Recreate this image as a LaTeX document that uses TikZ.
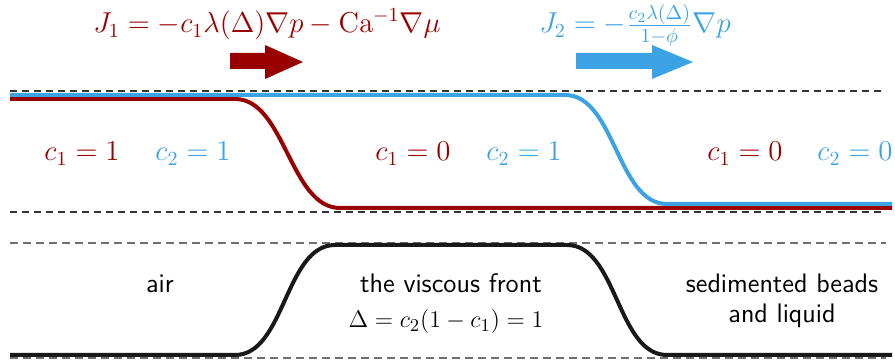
\documentclass[tikz,border=0pt]{standalone}
\usepackage{amsmath}
\definecolor{cred}{HTML}{990000}
\definecolor{cblue}{HTML}{3BA3E3}
\definecolor{dgray}{HTML}{333333}
\definecolor{lgray}{HTML}{707070}
\begin{document}
\begin{tikzpicture}[x=0.5pt,y=-0.5pt,
  topdash/.style={dgray,line width=1pt,dash pattern=on 3.5pt off 2.5pt},
  botdash/.style={lgray,line width=0.6pt,dash pattern=on 4pt off 2.5pt},
  curve/.style={line width=2pt},
  lbl/.style={inner sep=0pt,anchor=base,font=\fontsize{14.2}{16}\selectfont},
  dlbl/.style={inner sep=0pt,anchor=base,font=\fontsize{13}{15}\selectfont},
  slbl/.style={inner sep=0pt,font=\fontsize{13.4}{15}\selectfont\sffamily,align=center}]
\useasboundingbox (0,0) rectangle (895,362);
% top panel dashed
\draw[topdash] (10,91) -- (886,91);
\draw[topdash] (10,212) -- (886,212);
% red curve
\draw[curve,cred] (10,99) -- (235,99) .. controls (285,99) and (290,208) .. (340,208) -- (892,208);
% blue curve
\draw[curve,cblue] (10,95) -- (565,95) .. controls (615,95) and (617,204) .. (667,204) -- (892,204);
% arrows
\fill[cred] (230,53) -- (265,53) -- (265,45) -- (303,62) -- (265,79) -- (265,69) -- (230,69) -- cycle;
\fill[cblue] (576,53) -- (652,53) -- (652,45) -- (693,62) -- (652,79) -- (652,69) -- (576,69) -- cycle;
% formulas
\node[lbl,text=cred] (j1) at (267,33) {$J_1=-c_1\lambda(\Delta)\nabla p-\mathrm{Ca}^{-1}\nabla\mu$};
\node[lbl,text=cblue] (j2) at (635,33) {$J_2=-\frac{c_2\lambda(\Delta)}{1-\phi}\nabla p$};
% concentration labels
\node[lbl,text=cred] (a1) at (82,161) {$c_1=1$};
\node[lbl,text=cblue] (a2) at (193,161) {$c_2=1$};
\node[lbl,text=cred] (b1) at (413,161) {$c_1=0$};
\node[lbl,text=cblue] (b2) at (524,161) {$c_2=1$};
\node[lbl,text=cred] (d1) at (745,161) {$c_1=0$};
\node[lbl,text=cblue] (d2) at (855,161) {$c_2=0$};
% bottom panel
\draw[botdash] (10,243) -- (886,243);
\draw[botdash] (10,358) -- (886,358);
\draw[curve,black!90] (10,355) -- (235,355) .. controls (285,355) and (285,245) .. (335,245) -- (567,245) .. controls (617,245) and (617,355) .. (667,355) -- (892,355);
\node[slbl,anchor=base] (air) at (160,293) {air};
\node[slbl,anchor=base] (vf) at (451,293) {the viscous front};
\node[dlbl] (delta) at (446,328) {$\Delta=c_2(1-c_1)=1$};
\node[slbl] (sb) at (782,301) {sedimented beads\\and liquid};
\end{tikzpicture}
\end{document}
